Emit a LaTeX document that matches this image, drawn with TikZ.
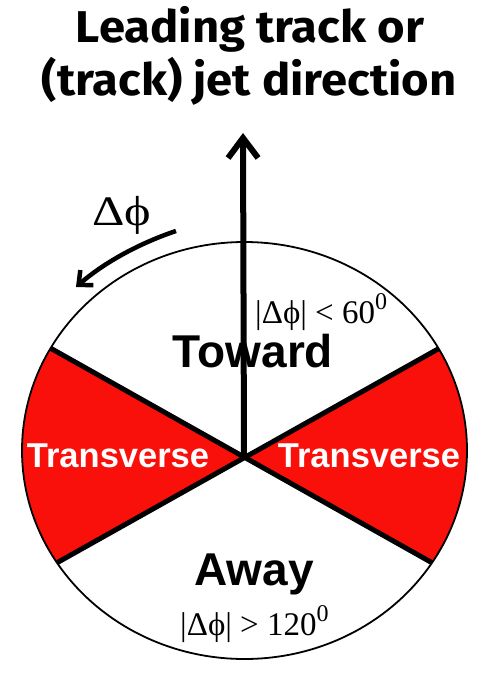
\documentclass[tikz,border=0pt]{standalone}
\usepackage{fontspec}
\setmainfont{Liberation Serif}
\newfontfamily\titlefont{Fira Sans}
\newfontfamily\arialfont{Liberation Sans}
\usetikzlibrary{arrows.meta,calc}
\definecolor{sectorred}{RGB}{250,16,10}
\tikzset{
  sectorline/.style={line width=5pt},
  rimline/.style={line width=1.8pt},
  titletext/.style={anchor=base, inner sep=0pt, xscale=1.06, font=\titlefont\bfseries\fontsize{44.5}{50}\selectfont},
  zonetext/.style={anchor=base, inner sep=0pt, font=\arialfont\bfseries\fontsize{46}{50}\selectfont},
  transtext/.style={anchor=base, inner sep=0pt, text=white, font=\arialfont\bfseries\fontsize{34.5}{40}\selectfont},
  mathtext/.style={anchor=base west, inner sep=0pt, font=\fontsize{33}{40}\selectfont},
}
\newcommand{\supzero}{\raisebox{0.42em}{\fontsize{24}{24}\selectfont 0}}
\begin{document}
\begin{tikzpicture}[x=1pt,y=-1pt]
\useasboundingbox (0,0) rectangle (482,676);
\coordinate (C) at (244,457);
\coordinate (ul) at (52,349);
\coordinate (ur) at (437,349);
\coordinate (ll) at (52,565);
\coordinate (lr) at (436,565);
\coordinate (E) at (244.5,450.5);
\begin{scope}
  \clip (E) ellipse [x radius=222.5, y radius=208.5];
  \fill[sectorred] (C) -- ($(C)!3!(ul)$) -- ($(C)!3!(ll)$) -- cycle;
  \fill[sectorred] (C) -- ($(C)!3!(ur)$) -- ($(C)!3!(lr)$) -- cycle;
  \draw[sectorline] ($(C)!3!(ul)$) -- ($(C)!3!(lr)$);
  \draw[sectorline] ($(C)!3!(ur)$) -- ($(C)!3!(ll)$);
\end{scope}
\draw[rimline] (E) ellipse [x radius=222.5, y radius=208.5];
% main direction arrow
\coordinate (top) at (243,133);
\draw[line width=6pt, -{Straight Barb[length=20pt,width=30pt]}] (C) -- (top);
% delta phi arrow
\coordinate (ds) at (176,231);
\coordinate (de) at (76,287);
\draw[line width=4.5pt, -{Straight Barb[length=11pt,width=20pt]}] (ds) .. controls (140,243) and (105,262) .. (de);
% texts
\node[titletext] (t1) at (250,43) {Leading track or};
\node[titletext] (t2) at (249,96) {(track) jet direction};
\node[anchor=base, inner sep=0pt, xscale=1.2, font=\fontsize{42}{50}\selectfont] (dphi) at (122,225) {Δϕ};
\node[mathtext] (lt) at (255,323) {|Δϕ| < 60\supzero};
\node[zonetext] (toward) at (253,367) {Toward};
\node[transtext] (tl) at (118,467) {Transverse};
\node[transtext] (tr) at (369,467) {Transverse};
\node[zonetext] (away) at (254,585) {Away};
\node[mathtext] (gt) at (180,635) {|Δϕ| > 120\supzero};
\end{tikzpicture}
\end{document}
